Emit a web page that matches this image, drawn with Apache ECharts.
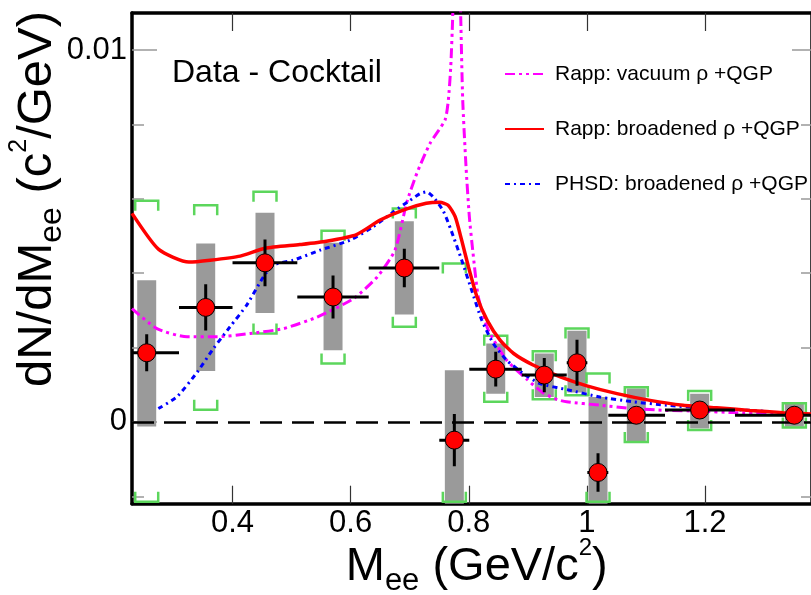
<!DOCTYPE html>
<html>
<head>
<meta charset="utf-8">
<script src="https://cdn.jsdelivr.net/npm/echarts@6/dist/echarts.min.js"></script>
<style>
  html, body { margin: 0; padding: 0; background: #fff; }
  #chart { width: 811px; height: 595px; }
</style>
</head>
<body>
<div id="chart"></div>
<script>
// data - cocktail points
var ptX = [0.2547, 0.3546, 0.4550, 0.5702, 0.6909, 0.7756, 0.8457, 0.9279, 0.9833, 1.0189, 1.0837, 1.1910, 1.3513];
var ptY = [0.00186, 0.00308, 0.00428, 0.00336, 0.00414, -0.00049, 0.00142, 0.00126, 0.00159, -0.00136, 0.00018, 0.00032, 0.00018];
var statErr = [0.00050, 0.00062, 0.00063, 0.00058, 0.00052, 0.00070, 0.00047, 0.00046, 0.00062, 0.00052, 0.00020, 0.00012, 0.00010];
var binLo = [0.200, 0.3094, 0.400, 0.5097, 0.6306, 0.7501, 0.8009, 0.8897, 0.9659, 1.0008, 1.0363, 1.1323, 1.2508];
var binHi = [0.3094, 0.400, 0.5097, 0.6306, 0.7501, 0.8009, 0.8897, 0.9659, 1.0008, 1.0363, 1.1323, 1.2508, 1.450];
// gray boxes (systematic)
var sysLo = [-0.00012, 0.00137, 0.00293, 0.00193, 0.00289, -0.0030, 0.00076, 0.00067, 0.00079, -0.0030, -0.00054, -0.00018, -0.00013];
var sysHi = [0.00381, 0.00480, 0.00563, 0.00482, 0.00540, 0.00139, 0.00211, 0.00184, 0.00245, 0.00067, 0.00090, 0.00076, 0.00048];
// green brackets (cocktail uncertainty)
var cockLo = [-0.00215, 0.00033, 0.00238, 0.00157, 0.00256, -0.00215, 0.00054, 0.00061, 0.00072, -0.00215, -0.00054, -0.00022, -0.00015];
var cockHi = [0.00595, 0.00583, 0.00619, 0.00514, 0.00574, 0.00426, 0.00232, 0.00190, 0.00251, 0.00130, 0.00093, 0.00083, 0.00050];

// model curves
var rappVacuum = [
  [0.2298, 0.00305], [0.272, 0.00251], [0.323, 0.00229], [0.374, 0.00229], [0.430, 0.00238],
  [0.486, 0.00251], [0.543, 0.00282], [0.605, 0.00332], [0.645, 0.00390], [0.6751, 0.00462],
  [0.695, 0.00590], [0.7119, 0.00668], [0.7344, 0.00749], [0.7598, 0.00812], [0.7654, 0.00865],
  [0.7695, 0.00955], [0.7728, 0.0109], [0.7765, 0.0135], [0.7795, 0.0160], [0.7830, 0.0135],
  [0.7864, 0.0109], [0.7898, 0.00865], [0.7954, 0.00686], [0.8010, 0.00552], [0.8067, 0.00462],
  [0.8162, 0.00336], [0.8331, 0.00247], [0.8643, 0.00166], [0.8981, 0.00115], [0.926, 0.00078],
  [0.950, 0.00060], [0.9659, 0.00054], [1.0222, 0.00045], [1.0786, 0.00036], [1.1352, 0.00031],
  [1.1916, 0.00029], [1.248, 0.00025], [1.3812, 0.00020]
];
var rappBroad = [
  [0.2298, 0.00561], [0.275, 0.00464], [0.326, 0.00430], [0.362, 0.00435], [0.413, 0.00446],
  [0.455, 0.00467], [0.514, 0.00477], [0.559, 0.00486], [0.610, 0.00504], [0.650, 0.00543],
  [0.689, 0.00570], [0.728, 0.00588], [0.751, 0.00591], [0.765, 0.00583], [0.777, 0.00552],
  [0.788, 0.00489], [0.7995, 0.00417], [0.814, 0.00336], [0.831, 0.00274], [0.853, 0.00220],
  [0.876, 0.00184], [0.909, 0.00153], [0.955, 0.00121], [1.000, 0.00097], [1.051, 0.00076],
  [1.107, 0.00058], [1.163, 0.00045], [1.220, 0.00038], [1.276, 0.00031], [1.332, 0.00025],
  [1.3812, 0.00021]
];
var phsdBroad = [
  [0.2744, 0.00036], [0.3055, 0.00067], [0.3394, 0.00132], [0.3675, 0.00197], [0.3958, 0.00256],
  [0.424, 0.00314], [0.4522, 0.00390], [0.4691, 0.00422], [0.503, 0.00435], [0.5482, 0.00462],
  [0.599, 0.00489], [0.6384, 0.00525], [0.6723, 0.00565], [0.7005, 0.00596], [0.7175, 0.00614],
  [0.7288, 0.00619], [0.740, 0.00605], [0.757, 0.00567], [0.770, 0.00516], [0.7881, 0.00435],
  [0.805, 0.00354], [0.822, 0.00274], [0.8416, 0.00211], [0.8643, 0.00166], [0.8924, 0.00130],
  [0.9207, 0.00103], [0.9659, 0.00087], [1.0222, 0.00067], [1.0786, 0.00054], [1.1352, 0.00045],
  [1.1916, 0.00038], [1.248, 0.00033], [1.2988, 0.00029]
];

var xTicks = [0.4, 0.6, 0.8, 1.0, 1.2];
var yMajor = [0, 0.01];
var yMinor = [-0.002, 0.002, 0.004, 0.006, 0.008];

var nameVac = "Rapp: vacuum \u03c1 +QGP";
var nameBroad = "Rapp: broadened \u03c1 +QGP";
var namePhsd = "PHSD: broadened \u03c1 +QGP";

var FONT = "'Liberation Sans', Arial, Helvetica, sans-serif";
var xMin = 0.2298, xMax = 1.3812, yMin = -0.0022, yMax = 0.011;

var chart = echarts.init(document.getElementById("chart"));

function renderSys(params, api) {
  var x = api.value(0);
  var t = api.coord([x, api.value(2)]);
  var b = api.coord([x, api.value(1)]);
  return {
    type: "rect",
    shape: { x: t[0] - 9.5, y: t[1], width: 19, height: b[1] - t[1] },
    style: { fill: "#9a9a9a" }
  };
}

function renderBracket(params, api) {
  var x = api.value(0);
  var hi = api.coord([x, api.value(2)]);
  var lo = api.coord([x, api.value(1)]);
  var w = 11.5, leg = 10;
  return {
    type: "group",
    children: [
      {
        type: "polyline",
        shape: { points: [[hi[0] - w, hi[1] + leg], [hi[0] - w, hi[1]], [hi[0] + w, hi[1]], [hi[0] + w, hi[1] + leg]] },
        style: { stroke: "#5cd65c", lineWidth: 2.5, fill: null }
      },
      {
        type: "polyline",
        shape: { points: [[lo[0] - w, lo[1] - leg], [lo[0] - w, lo[1]], [lo[0] + w, lo[1]], [lo[0] + w, lo[1] - leg]] },
        style: { stroke: "#5cd65c", lineWidth: 2.5, fill: null }
      }
    ]
  };
}

function renderErr(params, api) {
  var x = api.value(0), y = api.value(1), e = api.value(4);
  var l = api.coord([api.value(2), y]);
  var r = api.coord([api.value(3), y]);
  var t = api.coord([x, y + e]);
  var b = api.coord([x, y - e]);
  return {
    type: "group",
    children: [
      { type: "line", shape: { x1: l[0], y1: l[1], x2: r[0], y2: r[1] }, style: { stroke: "#000", lineWidth: 3 } },
      { type: "line", shape: { x1: t[0], y1: t[1], x2: b[0], y2: b[1] }, style: { stroke: "#000", lineWidth: 3 } }
    ]
  };
}

function yAxisCfg(pos, ticks, len, showLine, showLabel) {
  return {
    type: "value", position: pos, min: yMin, max: yMax,
    axisLine: { show: showLine, onZero: false, lineStyle: { color: "#000", width: 3.5 } },
    axisTick: { show: true, inside: true, length: len, customValues: ticks, lineStyle: { color: "#999", width: 1.5 } },
    axisLabel: {
      show: showLabel, customValues: ticks, margin: 5, fontSize: 31, color: "#000", fontFamily: FONT,
      formatter: function (v) { return v === 0 ? "0" : "0.01"; }
    },
    splitLine: { show: false }
  };
}

function xAxisCfg(pos, showLabel) {
  return {
    type: "value", position: pos, min: xMin, max: xMax,
    axisLine: { show: true, onZero: false, lineStyle: { color: "#000", width: 3.5 } },
    axisTick: { show: true, inside: true, length: 18, customValues: xTicks, lineStyle: { color: "#333", width: 1.2 } },
    axisLabel: {
      show: showLabel, customValues: xTicks, margin: 4, fontSize: 31, color: "#000", fontFamily: FONT,
      formatter: function (v) { return String(v); }
    },
    splitLine: { show: false }
  };
}

var option = {
  animation: false,
  backgroundColor: "#fff",
  grid: { left: 132, top: 13, width: 680, height: 490.7, containLabel: false, outerBoundsMode: "none" },
  xAxis: [xAxisCfg("bottom", true), xAxisCfg("top", false)],
  yAxis: [
    yAxisCfg("left", yMajor, 25, true, true),
    yAxisCfg("left", yMinor, 12, false, false),
    yAxisCfg("right", yMajor, 20, true, false),
    yAxisCfg("right", yMinor, 11, false, false)
  ],
  legend: {
    orient: "vertical", left: 499, top: 57, itemWidth: 39, itemHeight: 14, itemGap: 31,
    selectedMode: false,
    itemStyle: { opacity: 0 },
    data: [nameVac, nameBroad, namePhsd],
    textStyle: { fontSize: 21, color: "#000", fontFamily: FONT, lineHeight: 24, padding: [0, 0, 0, 6] }
  },
  graphic: [
    {
      type: "text", x: 172, y: 73.5,
      style: { text: "Data - Cocktail", fontSize: 32, fontFamily: FONT, fill: "#000", align: "left", verticalAlign: "middle", textAlign: "left", textVerticalAlign: "middle" }
    },
    {
      type: "text", x: 476.7, y: 566.7,
      style: {
        text: "{m|M}{s|ee}{m| (GeV/c}{p|2}{m|)}",
        align: "center", verticalAlign: "middle", textAlign: "center", textVerticalAlign: "middle",
        fontFamily: FONT, fill: "#000",
        rich: {
          m: { fontSize: 47, lineHeight: 60, fontFamily: FONT, fill: "#000" },
          s: { fontSize: 31, lineHeight: 24, verticalAlign: "bottom", fontFamily: FONT, fill: "#000" },
          p: { fontSize: 24, lineHeight: 40, verticalAlign: "top", fontFamily: FONT, fill: "#000" }
        }
      }
    },
    {
      type: "text", x: 37.5, y: 199, rotation: Math.PI / 2,
      style: {
        text: "{m|dN/dM}{s|ee}{m| (c}{p|2}{m|/GeV)}",
        align: "center", verticalAlign: "middle", textAlign: "center", textVerticalAlign: "middle",
        fontFamily: FONT, fill: "#000",
        rich: {
          m: { fontSize: 49, lineHeight: 62, fontFamily: FONT, fill: "#000" },
          s: { fontSize: 32, lineHeight: 24, verticalAlign: "bottom", fontFamily: FONT, fill: "#000" },
          p: { fontSize: 25, lineHeight: 42, verticalAlign: "top", fontFamily: FONT, fill: "#000" }
        }
      }
    }
  ],
  series: [
    {
      name: "sys", type: "custom", renderItem: renderSys, clip: true, z: 1,
      data: ptX.map(function (x, i) { return [x, sysLo[i], sysHi[i]]; })
    },
    {
      name: "cocktail", type: "custom", renderItem: renderBracket, clip: true, z: 2,
      data: ptX.map(function (x, i) { return [x, cockLo[i], cockHi[i]]; })
    },
    {
      name: nameVac, type: "line", data: rappVacuum, symbol: "none", smooth: 0.2, z: 3,
      lineStyle: { color: "#ff00ff", width: 3, type: [10, 4, 3, 4, 3, 4] },
      itemStyle: { color: "#ff00ff" }
    },
    {
      name: nameBroad, type: "line", data: rappBroad, symbol: "none", smooth: 0.2, z: 4,
      lineStyle: { color: "#ff0000", width: 3.5, type: "solid" },
      itemStyle: { color: "#ff0000" }
    },
    {
      name: namePhsd, type: "line", data: phsdBroad, symbol: "none", smooth: 0.2, z: 3,
      lineStyle: { color: "#0000ff", width: 3, type: [5, 4, 2, 4] },
      itemStyle: { color: "#0000ff" },
      markLine: {
        silent: true, symbol: ["none", "none"], label: { show: false },
        lineStyle: { color: "#000", width: 2.5, type: [22, 10] },
        data: [{ yAxis: 0 }]
      }
    },
    {
      name: "err", type: "custom", renderItem: renderErr, clip: true, z: 5,
      data: ptX.map(function (x, i) { return [x, ptY[i], binLo[i], binHi[i], statErr[i]]; })
    },
    {
      name: "data", type: "scatter", z: 6, symbol: "circle", symbolSize: 18,
      itemStyle: { color: "#ff0000", borderColor: "#000", borderWidth: 1, opacity: 1 },
      data: ptX.map(function (x, i) { return [x, ptY[i]]; })
    }
  ]
};

chart.setOption(option);
</script>
</body>
</html>
